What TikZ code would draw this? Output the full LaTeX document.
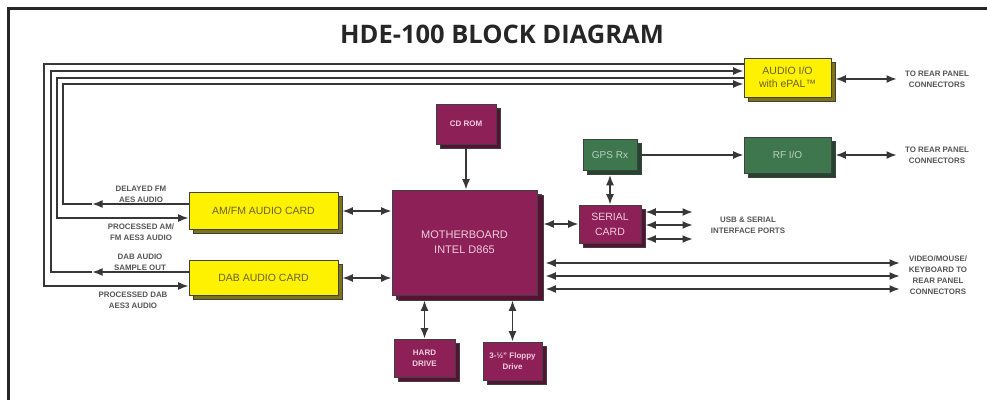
\documentclass[tikz,border=0pt]{standalone}
\usepackage{fontspec}
\setmainfont{Liberation Sans}
\newfontfamily\titlefont{Open Sans}
\usepackage{tikz}
\usetikzlibrary{arrows.meta, shadows}

\definecolor{jaune}{RGB}{255,242,0}
\definecolor{jauneombre}{RGB}{125,115,25}
\definecolor{jtexte}{RGB}{105,95,45}
\definecolor{bordeaux}{RGB}{142,32,88}
\definecolor{bordeauxombre}{RGB}{85,18,50}
\definecolor{btexte}{RGB}{240,205,222}
\definecolor{vert}{RGB}{62,118,78}
\definecolor{vertombre}{RGB}{35,68,45}
\definecolor{vtexte}{RGB}{185,210,190}
\definecolor{trait}{RGB}{55,55,55}
\definecolor{etiq}{RGB}{85,85,85}

\begin{document}
\begin{tikzpicture}[x=1pt,y=-1pt,
  >={Latex[length=10.5pt,width=8pt]},
  fl/.style={draw=trait, line width=1.9pt},
  bloc/.style={draw=black!75, line width=0.6pt, align=center, inner sep=0pt},
  carte/.style={bloc, fill=jaune, text=jtexte, font=\fontsize{10.5}{13}\selectfont,
    general shadow={shadow xshift=4pt, shadow yshift=-4pt, fill=jauneombre, draw=black!75}},
  pc/.style={bloc, fill=bordeaux, text=btexte,
    general shadow={shadow xshift=4pt, shadow yshift=-4pt, fill=bordeauxombre, draw=black!75}},
  rf/.style={bloc, fill=vert, text=vtexte, font=\fontsize{10}{12}\selectfont,
    general shadow={shadow xshift=4pt, shadow yshift=-4pt, fill=vertombre, draw=black!75}},
  etiquette/.style={text=etiq, font=\bfseries\fontsize{7.9}{10.8}\selectfont, align=center, inner sep=0pt}]

\useasboundingbox (0,0) rectangle (987,400);
\draw[line width=2.5pt, black!85] (8.5,400) -- (8.5,8.5) -- (987,8.5);%le cadre

\node[font=\titlefont\bfseries\fontsize{25.5}{30}\selectfont, text=black!85] (titre) at (502,34) {HDE-100 BLOCK DIAGRAM};

%les blocs
\node[carte, minimum width=87pt, minimum height=39pt] (audio) at (787.5,77.5) {AUDIO I/O\\with ePAL™};
\node[rf, minimum width=87pt, minimum height=36pt] (rfio) at (787.5,155) {RF I/O};
\node[rf, minimum width=54pt, minimum height=31pt] (gps) at (610,155) {GPS Rx};
\node[pc, minimum width=60pt, minimum height=40pt, font=\bfseries\fontsize{8}{10}\selectfont] (cdrom) at (466,124) {CD ROM};
\node[pc, minimum width=145pt, minimum height=105pt, font=\fontsize{11}{15}\selectfont,
  general shadow={shadow xshift=6pt, shadow yshift=-5pt, fill=bordeauxombre, draw=black!75}] (mobo) at (464.5,242.5) {MOTHERBOARD\\INTEL D865};
\node[pc, minimum width=62pt, minimum height=38pt, font=\fontsize{10.5}{15}\selectfont] (serial) at (610,224) {SERIAL\\CARD};
\node[pc, minimum width=61pt, minimum height=38pt, font=\bfseries\fontsize{8}{11.5}\selectfont] (hdd) at (424.5,358) {HARD\\DRIVE};
\node[pc, minimum width=59pt, minimum height=38pt, font=\bfseries\fontsize{8}{11.5}\selectfont] (floppy) at (512.5,361) {3-½” Floppy\\Drive};
\node[carte, minimum width=149pt, minimum height=37pt] (amfm) at (263.5,211) {AM/FM AUDIO CARD};
\node[carte, minimum width=149pt, minimum height=35pt] (dab) at (263.5,278) {DAB AUDIO CARD};

%les points du bus audio
\coordinate (c1) at (44,64);
\coordinate (c2) at (51,71);
\coordinate (c3) at (57,78);
\coordinate (c4) at (63,84);
\coordinate (d1) at (44,286);
\coordinate (d2) at (51,272);
\coordinate (d3) at (57,218);
\coordinate (d4) at (63,204);
\coordinate (m2) at (92,272);
\coordinate (m4) at (92,204);

\draw[fl,->] (audio.west |- c1) -- (c1) -- (d1) -- (dab.west |- d1);
\draw[fl,->] (dab.west |- d2) -- (m2);
\draw[fl,->] (m2) -- (d2) -- (c2) -- (audio.west |- c2);
\draw[fl,->] (audio.west |- c3) -- (c3) -- (d3) -- (amfm.west |- d3);
\draw[fl,->] (amfm.west |- d4) -- (m4);
\draw[fl,->] (m4) -- (d4) -- (c4) -- (audio.west |- c4);

\node[etiquette] (delfm) at (141,194) {DELAYED FM\\AES AUDIO};
\node[etiquette] (procfm) at (141,232) {PROCESSED AM/\\FM AES3 AUDIO};
\node[etiquette] (dabout) at (140,262) {DAB AUDIO\\SAMPLE OUT};
\node[etiquette] (procdab) at (133,300) {PROCESSED DAB\\AES3 AUDIO};

%vers l'arriere
\coordinate (r1) at (897,79);
\coordinate (r2) at (897,155);
\draw[fl,<->,shorten <=4pt] (audio.east |- r1) -- (r1);
\draw[fl,<->,shorten <=4pt] (rfio.east) -- (r2);
\node[etiquette] (rear1) at (937,79) {TO REAR PANEL\\CONNECTORS};
\node[etiquette] (rear2) at (937,155) {TO REAR PANEL\\CONNECTORS};

\draw[fl,->,shorten <=4pt] (gps.east) -- (rfio.west);
\draw[fl,<->,shorten <=4pt] (gps.south) -- (serial.north);
\draw[fl,->,shorten <=4pt] (cdrom.south) -- (cdrom.south |- mobo.north);

\draw[fl,<->,shorten <=4pt] (amfm.east) -- (amfm.east -| mobo.west);
\draw[fl,<->,shorten <=4pt] (dab.east) -- (dab.east -| mobo.west);
\draw[fl,<->,shorten >=6pt] (serial.west) -- (serial.west -| mobo.east);
\draw[fl,<->,shorten <=5pt] (mobo.south -| hdd.north) -- (hdd.north);
\draw[fl,<->,shorten <=5pt] (mobo.south -| floppy.north) -- (floppy.north);

%les ports
\foreach \i/\y in {1/212,2/225,3/239}{
  \coordinate (p\i) at (693,\y);
  \draw[fl,<->,shorten <=4pt] (serial.east |- p\i) -- (p\i);
}
\node[etiquette] (usb) at (748,225) {USB \& SERIAL\\INTERFACE PORTS};

\foreach \i/\y in {1/263,2/276,3/289}{
  \coordinate (v\i) at (900,\y);
  \draw[fl,<->,shorten <=8pt] (mobo.east |- v\i) -- (v\i);
}
\node[etiquette] (video) at (938,275) {VIDEO/MOUSE/\\KEYBOARD TO\\REAR PANEL\\CONNECTORS};

\end{tikzpicture}
\end{document}
